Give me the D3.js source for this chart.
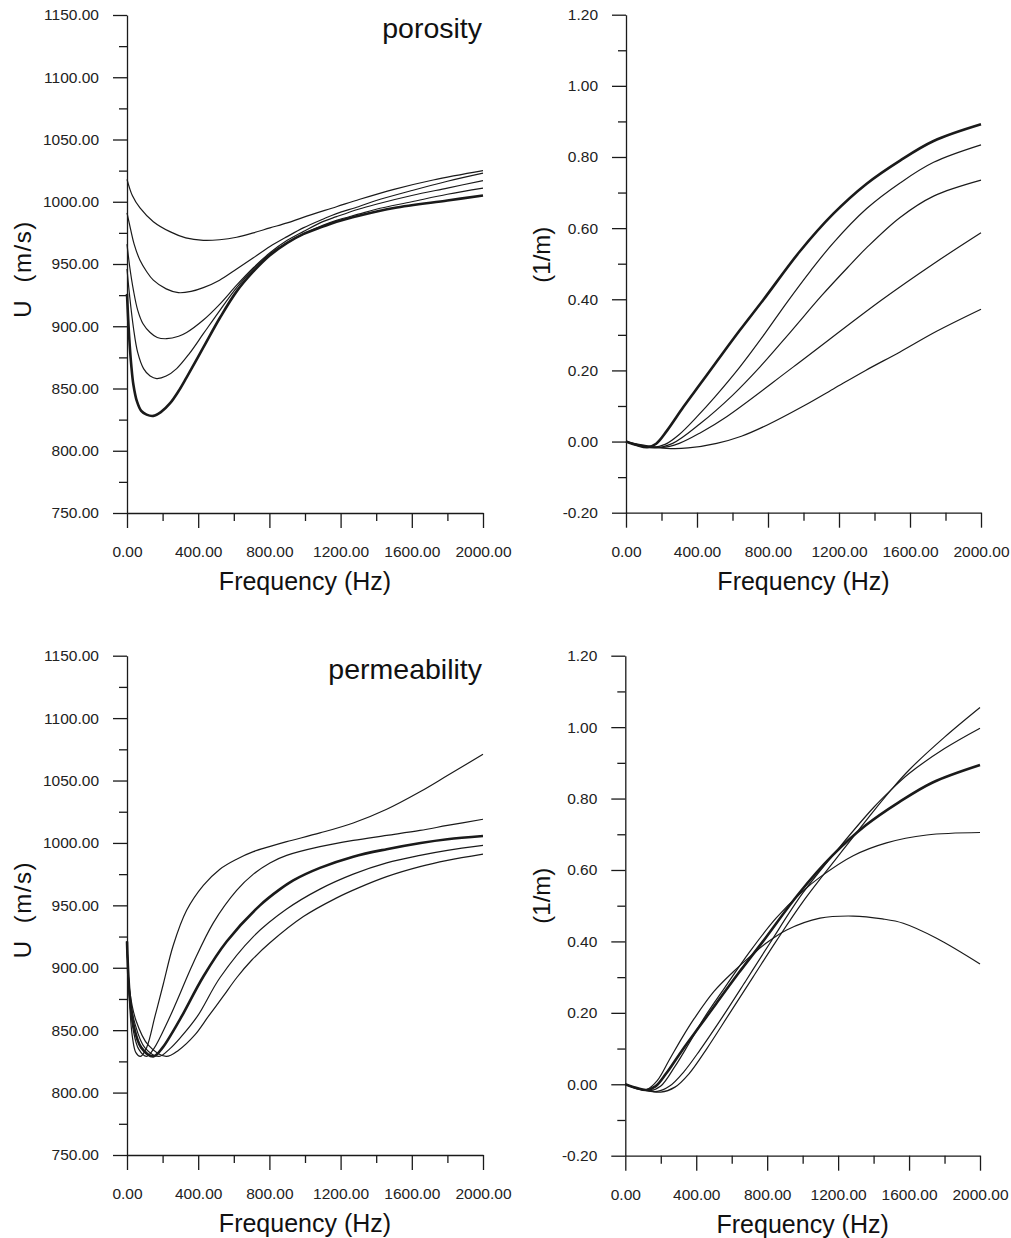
<html>
<head>
<meta charset="utf-8">
<title>U and attenuation vs frequency</title>
<script src="https://d3js.org/d3.v7.min.js"></script>
<style>
body { margin: 0; background: #fff; font-family: 'Liberation Sans', Arial, sans-serif; }
svg { display: block; }
</style>
</head>
<body>
<div id="chart"></div>
<script>

// tick values
var freqTicks = [0, 400, 800, 1200, 1600, 2000];
var freqMinor = [200, 600, 1000, 1400, 1800];
var uTicks = [750, 800, 850, 900, 950, 1000, 1050, 1100, 1150];
var uMinor = [775, 825, 875, 925, 975, 1025, 1075, 1125];
var aTicks = [-0.2, 0, 0.2, 0.4, 0.6, 0.8, 1.0, 1.2];
var aMinor = [-0.1, 0.1, 0.3, 0.5, 0.7, 0.9, 1.1];

// porosity, U (m/s) -- [frequency, value]
var porU1 = [[0,1018],[30,1005],[73,995],[148,984],[241,976],[330,971],[429,969],[520,969.5],[616,971.5],[710,975],[803,979],[900,983],[990,987.5],[1177,996],[1308,1002],[1500,1010],[1720,1017.5],[2000,1025]];
var porU2 = [[0,991],[20,978],[40,966],[73,953],[110,944],[148,937],[220,930],[288,927],[360,928],[429,931],[520,937],[616,946],[710,955],[803,964],[900,972],[990,979],[1100,986],[1177,990.5],[1300,996],[1400,1001],[1600,1009],[1800,1016.5],[2000,1023]];
var porU3 = [[0,966],[15,948],[36,929],[60,913],[90,902],[130,895],[170,891],[223,890],[290,892],[335,895],[429,905],[523,918],[616,933],[710,947],[803,959],[900,969],[990,976],[1100,984],[1177,988],[1300,994],[1400,998],[1600,1005],[1800,1011],[2000,1017]];
var porU4 = [[0,946],[15,924],[36,899],[60,879],[93,866],[130,860],[167,858],[220,860],[279,866],[350,878],[429,894],[523,913],[616,931],[710,946],[803,958],[900,967],[990,974],[1100,981],[1177,985],[1300,990],[1400,994],[1600,1000],[1800,1006],[2000,1011]];
var porU5 = [[0,926],[12,892],[25,867],[36,853],[55,840],[80,832],[110,829],[148,828],[190,831],[241,838],[290,848],[335,859],[429,883],[523,907],[616,928],[710,944],[803,957],[900,967],[990,974],[1100,980],[1177,984],[1308,989],[1500,995],[1800,1001],[2000,1005]];

// porosity, attenuation (1/m)
var porA1 = [[0,0],[60,-0.01],[120,-0.016],[170,-0.006],[230,0.03],[323,0.097],[420,0.163],[511,0.225],[640,0.312],[773,0.398],[980,0.535],[1167,0.64],[1356,0.725],[1544,0.79],[1733,0.845],[2000,0.892]];
var porA2 = [[0,0],[70,-0.012],[150,-0.016],[220,-0.008],[300,0.02],[400,0.07],[500,0.125],[642,0.21],[780,0.302],[905,0.39],[1040,0.48],[1167,0.558],[1356,0.655],[1544,0.727],[1733,0.785],[2000,0.834]];
var porA3 = [[0,0],[80,-0.012],[160,-0.018],[263,-0.005],[417,0.05],[600,0.13],[755,0.21],[930,0.31],[1102,0.41],[1250,0.49],[1356,0.545],[1544,0.63],[1733,0.69],[2000,0.735]];
var porA4 = [[0,0],[100,-0.012],[200,-0.017],[300,-0.005],[420,0.025],[567,0.07],[943,0.21],[1440,0.398],[1733,0.5],[2000,0.587]];
var porA5 = [[0,0],[100,-0.01],[229,-0.019],[350,-0.018],[511,-0.005],[650,0.015],[793,0.046],[1000,0.1],[1168,0.148],[1350,0.2],[1544,0.252],[1750,0.31],[2000,0.372]];

// permeability, U (m/s)
var permU1 = [[0,921],[15,870],[30,845],[50,832],[75,829],[110,836],[157,861],[204,887],[260,918],[335,946],[429,966],[522,979],[616,987],[710,993],[800,997],[897,1001],[1084,1008],[1271,1016],[1459,1027],[1646,1041],[1800,1054],[2000,1071]];
var permU2 = [[0,921],[15,875],[35,850],[65,835],[110,829],[150,835],[232,858],[279,873],[373,904],[485,936],[616,962],[710,975],[803,984],[897,990],[1084,997],[1271,1002],[1459,1006],[1646,1010],[1800,1014],[2000,1019]];
var permU3 = [[0,921],[15,878],[40,852],[80,836],[148,829],[200,836],[250,847],[307,861],[429,893],[560,921],[747,950],[860,963],[934,970],[1084,980],[1271,989],[1459,995],[1650,1000],[1800,1003],[2000,1005.5]];
var permU4 = [[0,921],[15,880],[45,855],[100,836],[180,829],[240,835],[300,844],[395,861],[522,892],[710,925],[897,947],[1084,963],[1271,975],[1459,984],[1646,990],[1800,994],[2000,998]];
var permU5 = [[0,921],[15,882],[50,858],[120,838],[220,829],[290,834],[380,846],[457,861],[540,877],[616,892],[700,906],[803,920],[991,941],[1178,956],[1300,964],[1459,973],[1646,981],[1800,986],[2000,991]];

// permeability, attenuation (1/m)
var permA1 = [[0,0],[110,-0.016],[200,-0.022],[280,-0.008],[360,0.03],[460,0.1],[590,0.2],[720,0.3],[850,0.4],[1000,0.51],[1210,0.645],[1400,0.765],[1500,0.825],[1600,0.88],[1800,0.972],[2000,1.055]];
var permA2 = [[0,0],[100,-0.016],[180,-0.02],[250,-0.005],[330,0.035],[420,0.095],[550,0.19],[680,0.29],[815,0.395],[1000,0.535],[1210,0.665],[1400,0.775],[1500,0.825],[1600,0.87],[1800,0.94],[2000,0.997]];
var permA3 = [[0,0],[60,-0.01],[120,-0.016],[170,-0.006],[230,0.03],[323,0.097],[420,0.163],[511,0.225],[640,0.312],[773,0.398],[980,0.535],[1167,0.64],[1356,0.725],[1544,0.79],[1733,0.845],[2000,0.894]];
var permA4 = [[0,0],[70,-0.012],[140,-0.018],[200,-0.005],[280,0.05],[360,0.115],[450,0.19],[560,0.27],[700,0.37],[850,0.465],[1000,0.54],[1098,0.58],[1285,0.64],[1473,0.676],[1700,0.698],[2000,0.705]];
var permA5 = [[0,0],[60,-0.012],[120,-0.015],[180,0.01],[250,0.07],[320,0.13],[390,0.185],[500,0.26],[609,0.315],[721,0.365],[797,0.396],[910,0.432],[1098,0.465],[1285,0.471],[1450,0.463],[1567,0.451],[1755,0.409],[2000,0.337]];

var width = 1011;
var height = 1238;

var svg = d3.select("#chart")
  .append("svg")
  .attr("width", width)
  .attr("height", height);

var ink = "#1a1a1a";
var fmt = d => d.toFixed(2);

//Draws one panel: axes with minor ticks, titles and the curves
function drawPanel(p) {
  var x = d3.scaleLinear().domain([0, 2000]).range([p.left, p.right]);
  var y = d3.scaleLinear().domain(p.yDomain).range([p.bottom, p.top]);
  var g = svg.append("g");

  var yAxis = d3.axisLeft(y)
    .tickValues(p.yTicks)
    .tickSize(14)
    .tickSizeOuter(0)
    .tickPadding(14)
    .tickFormat(fmt);
  var yMinor = d3.axisLeft(y).tickValues(p.yMinor).tickSize(8).tickFormat("");
  var xAxis = d3.axisBottom(x)
    .tickValues(freqTicks)
    .tickSize(15)
    .tickSizeOuter(0)
    .tickPadding(18)
    .tickFormat(fmt);
  var xMinor = d3.axisBottom(x).tickValues(freqMinor).tickSize(8).tickFormat("");

  g.append("g").attr("transform", "translate(" + p.left + ",0)").call(yAxis);
  g.append("g").attr("transform", "translate(" + p.left + ",0)").call(yMinor).select(".domain").remove();
  g.append("g").attr("transform", "translate(0," + p.bottom + ")").call(xAxis);
  g.append("g").attr("transform", "translate(0," + p.bottom + ")").call(xMinor).select(".domain").remove();

  g.selectAll(".domain, .tick line").style("stroke", ink).style("stroke-width", 1.3);
  g.selectAll(".tick text")
    .style("font-family", "'Liberation Sans', Arial, sans-serif")
    .style("font-size", "15.5px")
    .style("fill", "#222");

  g.append("text")
    .attr("x", (p.left + p.right) / 2)
    .attr("y", p.bottom + 77)
    .attr("text-anchor", "middle")
    .style("font-size", "25px")
    .style("fill", "#111")
    .text("Frequency (Hz)");

  g.append("text")
    .attr("transform", "translate(" + p.titleX + "," + (p.top + p.titleY) + ") rotate(-90)")
    .attr("text-anchor", "middle")
    .style("font-size", "24px")
    .style("letter-spacing", p.titleSpacing)
    .style("fill", "#111")
    .style("white-space", "pre")
    .text(p.yTitle);

  if (p.note) {
    g.append("text")
      .attr("x", p.right - 1)
      .attr("y", p.top + 23)
      .attr("text-anchor", "end")
      .style("font-size", "28.5px")
      .style("fill", "#111")
      .text(p.note);
  }

  var line = d3.line()
    .x(d => x(d[0]))
    .y(d => y(d[1]))
    .curve(d3.curveCatmullRom.alpha(0.5));

  g.selectAll(".curve")
    .data(p.curves)
    .enter()
    .append("path")
    .attr("class", "curve")
    .attr("d", d => line(d))
    .style("fill", "none")
    .style("stroke", ink)
    .style("stroke-width", (d, i) => i == p.thick ? 2.6 : 1.2);
}

drawPanel({left: 127, right: 483, top: 15, bottom: 513, yDomain: [750, 1150],
  yTicks: uTicks, yMinor: uMinor, titleX: 31, titleY: 254, titleSpacing: "1.5px", yTitle: "U  (m/s)", note: "porosity",
  curves: [porU1, porU2, porU3, porU4, porU5], thick: 4});

drawPanel({left: 626, right: 981, top: 14.7, bottom: 512.7, yDomain: [-0.2, 1.2],
  yTicks: aTicks, yMinor: aMinor, titleX: 550, titleY: 240, titleSpacing: "0px", yTitle: "(1/m)",
  curves: [porA1, porA2, porA3, porA4, porA5], thick: 0});

drawPanel({left: 127, right: 483, top: 655.7, bottom: 1155, yDomain: [750, 1150],
  yTicks: uTicks, yMinor: uMinor, titleX: 31, titleY: 254, titleSpacing: "1.5px", yTitle: "U  (m/s)", note: "permeability",
  curves: [permU1, permU2, permU3, permU4, permU5], thick: 2});

drawPanel({left: 625.3, right: 980, top: 655.7, bottom: 1155.7, yDomain: [-0.2, 1.2],
  yTicks: aTicks, yMinor: aMinor, titleX: 550, titleY: 240, titleSpacing: "0px", yTitle: "(1/m)",
  curves: [permA1, permA2, permA3, permA4, permA5], thick: 2});

</script>
</body>
</html>
